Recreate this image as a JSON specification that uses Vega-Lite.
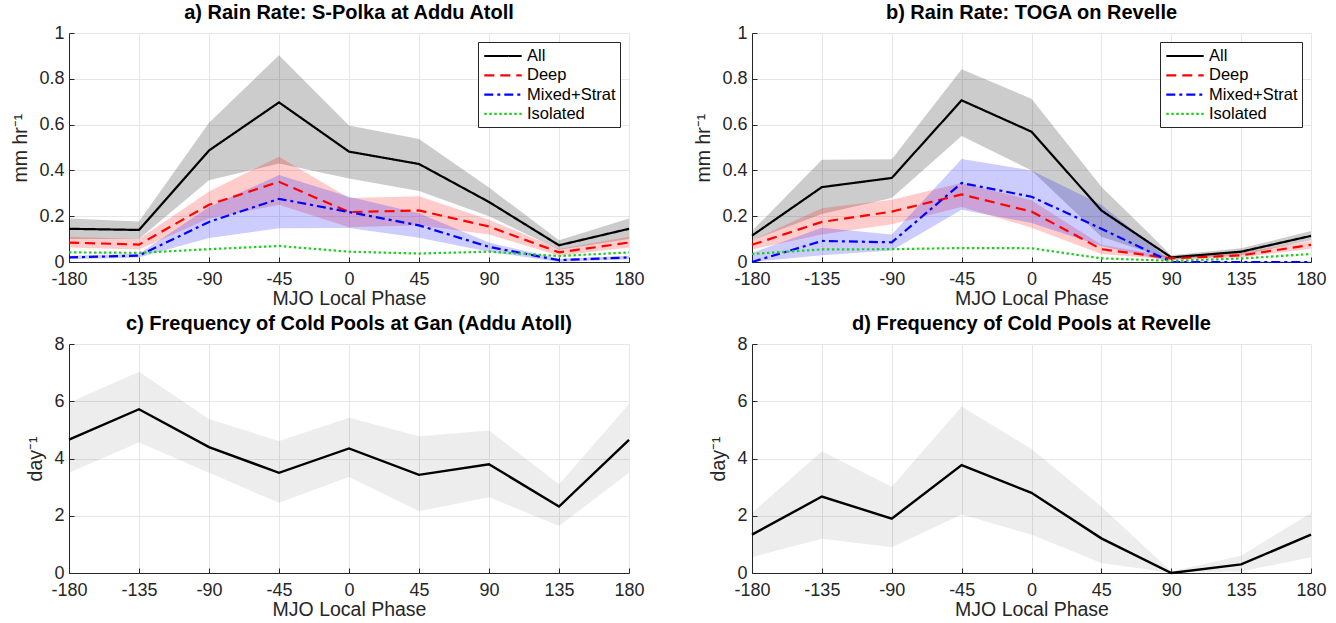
{
  "$schema": "https://vega.github.io/schema/vega-lite/v6.json",
  "padding": {"left": 10, "top": 3, "right": 10, "bottom": 4},
  "background": "white",
  "config": {
    "font": "Liberation Sans",
    "view": {"stroke": null},
    "axis": {
      "labelFont": "Liberation Sans",
      "titleFont": "Liberation Sans",
      "labelFontSize": 18,
      "titleFontSize": 19.5,
      "titleFontWeight": "normal",
      "labelColor": "#262626",
      "titleColor": "#262626",
      "domainColor": "#262626",
      "tickColor": "#262626",
      "gridColor": "#e6e6e6",
      "grid": true,
      "tickSize": -5,
      "labelFlush": false,
      "labelOverlap": false
    },
    "axisX": {"labelPadding": 13, "titlePadding": 1},
    "axisY": {"labelPadding": 10, "titlePadding": 8},
    "title": {"font": "Liberation Sans", "fontSize": 20, "fontWeight": "bold", "color": "#000000", "offset": 1, "anchor": "middle", "frame": "group"},
    "legend": {
      "orient": "top-right",
      "offset": 9,
      "padding": 4,
      "strokeColor": "#262626",
      "fillColor": "#ffffff",
      "symbolType": "M-2.2,0H2.2",
      "symbolSize": 289,
      "symbolStrokeWidth": 2.2,
      "symbolOffset": 11,
      "rowPadding": 0.3,
      "labelFont": "Liberation Sans",
      "labelFontSize": 16.5,
      "labelColor": "#000000",
      "labelOffset": 14
    }
  },
  "datasets": {
    "rain": [
      {"p": "a", "s": "All", "x": -180, "y": 0.145, "lo": 0.100, "hi": 0.190},
      {"p": "a", "s": "All", "x": -135, "y": 0.140, "lo": 0.100, "hi": 0.177},
      {"p": "a", "s": "All", "x": -90, "y": 0.487, "lo": 0.357, "hi": 0.608},
      {"p": "a", "s": "All", "x": -45, "y": 0.697, "lo": 0.430, "hi": 0.903},
      {"p": "a", "s": "All", "x": 0, "y": 0.482, "lo": 0.365, "hi": 0.596},
      {"p": "a", "s": "All", "x": 45, "y": 0.428, "lo": 0.310, "hi": 0.537},
      {"p": "a", "s": "All", "x": 90, "y": 0.262, "lo": 0.200, "hi": 0.325},
      {"p": "a", "s": "All", "x": 135, "y": 0.073, "lo": 0.053, "hi": 0.095},
      {"p": "a", "s": "All", "x": 180, "y": 0.145, "lo": 0.100, "hi": 0.190},
      {"p": "a", "s": "Deep", "x": -180, "y": 0.085, "lo": 0.063, "hi": 0.110},
      {"p": "a", "s": "Deep", "x": -135, "y": 0.076, "lo": 0.055, "hi": 0.100},
      {"p": "a", "s": "Deep", "x": -90, "y": 0.250, "lo": 0.190, "hi": 0.308},
      {"p": "a", "s": "Deep", "x": -45, "y": 0.350, "lo": 0.250, "hi": 0.460},
      {"p": "a", "s": "Deep", "x": 0, "y": 0.218, "lo": 0.152, "hi": 0.280},
      {"p": "a", "s": "Deep", "x": 45, "y": 0.225, "lo": 0.160, "hi": 0.287},
      {"p": "a", "s": "Deep", "x": 90, "y": 0.155, "lo": 0.120, "hi": 0.185},
      {"p": "a", "s": "Deep", "x": 135, "y": 0.042, "lo": 0.027, "hi": 0.057},
      {"p": "a", "s": "Deep", "x": 180, "y": 0.085, "lo": 0.063, "hi": 0.110},
      {"p": "a", "s": "Mixed+Strat", "x": -180, "y": 0.020, "lo": 0.012, "hi": 0.027},
      {"p": "a", "s": "Mixed+Strat", "x": -135, "y": 0.028, "lo": 0.020, "hi": 0.036},
      {"p": "a", "s": "Mixed+Strat", "x": -90, "y": 0.175, "lo": 0.105, "hi": 0.240},
      {"p": "a", "s": "Mixed+Strat", "x": -45, "y": 0.276, "lo": 0.147, "hi": 0.380},
      {"p": "a", "s": "Mixed+Strat", "x": 0, "y": 0.218, "lo": 0.148, "hi": 0.285},
      {"p": "a", "s": "Mixed+Strat", "x": 45, "y": 0.160, "lo": 0.106, "hi": 0.213},
      {"p": "a", "s": "Mixed+Strat", "x": 90, "y": 0.066, "lo": 0.045, "hi": 0.085},
      {"p": "a", "s": "Mixed+Strat", "x": 135, "y": 0.008, "lo": 0.000, "hi": 0.014},
      {"p": "a", "s": "Mixed+Strat", "x": 180, "y": 0.020, "lo": 0.012, "hi": 0.027},
      {"p": "a", "s": "Isolated", "x": -180, "y": 0.042},
      {"p": "a", "s": "Isolated", "x": -135, "y": 0.040},
      {"p": "a", "s": "Isolated", "x": -90, "y": 0.056},
      {"p": "a", "s": "Isolated", "x": -45, "y": 0.070},
      {"p": "a", "s": "Isolated", "x": 0, "y": 0.045},
      {"p": "a", "s": "Isolated", "x": 45, "y": 0.037},
      {"p": "a", "s": "Isolated", "x": 90, "y": 0.045},
      {"p": "a", "s": "Isolated", "x": 135, "y": 0.026},
      {"p": "a", "s": "Isolated", "x": 180, "y": 0.042},
      {"p": "b", "s": "All", "x": -180, "y": 0.115, "lo": 0.095, "hi": 0.135},
      {"p": "b", "s": "All", "x": -135, "y": 0.327, "lo": 0.210, "hi": 0.446},
      {"p": "b", "s": "All", "x": -90, "y": 0.367, "lo": 0.280, "hi": 0.449},
      {"p": "b", "s": "All", "x": -45, "y": 0.706, "lo": 0.550, "hi": 0.842},
      {"p": "b", "s": "All", "x": 0, "y": 0.569, "lo": 0.400, "hi": 0.713},
      {"p": "b", "s": "All", "x": 45, "y": 0.225, "lo": 0.110, "hi": 0.329},
      {"p": "b", "s": "All", "x": 90, "y": 0.020, "lo": 0.010, "hi": 0.030},
      {"p": "b", "s": "All", "x": 135, "y": 0.045, "lo": 0.030, "hi": 0.060},
      {"p": "b", "s": "All", "x": 180, "y": 0.114, "lo": 0.095, "hi": 0.135},
      {"p": "b", "s": "Deep", "x": -180, "y": 0.075, "lo": 0.055, "hi": 0.095},
      {"p": "b", "s": "Deep", "x": -135, "y": 0.175, "lo": 0.120, "hi": 0.235},
      {"p": "b", "s": "Deep", "x": -90, "y": 0.220, "lo": 0.165, "hi": 0.272},
      {"p": "b", "s": "Deep", "x": -45, "y": 0.295, "lo": 0.240, "hi": 0.345},
      {"p": "b", "s": "Deep", "x": 0, "y": 0.220, "lo": 0.150, "hi": 0.270},
      {"p": "b", "s": "Deep", "x": 45, "y": 0.056, "lo": 0.035, "hi": 0.075},
      {"p": "b", "s": "Deep", "x": 90, "y": 0.016, "lo": 0.010, "hi": 0.022},
      {"p": "b", "s": "Deep", "x": 135, "y": 0.029, "lo": 0.020, "hi": 0.040},
      {"p": "b", "s": "Deep", "x": 180, "y": 0.075, "lo": 0.058, "hi": 0.092},
      {"p": "b", "s": "Mixed+Strat", "x": -180, "y": 0.000, "lo": 0.000, "hi": 0.040},
      {"p": "b", "s": "Mixed+Strat", "x": -135, "y": 0.092, "lo": 0.030, "hi": 0.150},
      {"p": "b", "s": "Mixed+Strat", "x": -90, "y": 0.086, "lo": 0.050, "hi": 0.120},
      {"p": "b", "s": "Mixed+Strat", "x": -45, "y": 0.345, "lo": 0.228, "hi": 0.450},
      {"p": "b", "s": "Mixed+Strat", "x": 0, "y": 0.285, "lo": 0.170, "hi": 0.400},
      {"p": "b", "s": "Mixed+Strat", "x": 45, "y": 0.145, "lo": 0.070, "hi": 0.250},
      {"p": "b", "s": "Mixed+Strat", "x": 90, "y": 0.000, "lo": 0.000, "hi": 0.003},
      {"p": "b", "s": "Mixed+Strat", "x": 135, "y": 0.000, "lo": 0.000, "hi": 0.003},
      {"p": "b", "s": "Mixed+Strat", "x": 180, "y": 0.000, "lo": 0.000, "hi": 0.003},
      {"p": "b", "s": "Isolated", "x": -180, "y": 0.035},
      {"p": "b", "s": "Isolated", "x": -135, "y": 0.055},
      {"p": "b", "s": "Isolated", "x": -90, "y": 0.056},
      {"p": "b", "s": "Isolated", "x": -45, "y": 0.061},
      {"p": "b", "s": "Isolated", "x": 0, "y": 0.060},
      {"p": "b", "s": "Isolated", "x": 45, "y": 0.016},
      {"p": "b", "s": "Isolated", "x": 90, "y": 0.005},
      {"p": "b", "s": "Isolated", "x": 135, "y": 0.015},
      {"p": "b", "s": "Isolated", "x": 180, "y": 0.035}
    ],
    "pools": [
      {"p": "c", "x": -180, "y": 4.66, "lo": 3.50, "hi": 5.95},
      {"p": "c", "x": -135, "y": 5.72, "lo": 4.56, "hi": 7.03},
      {"p": "c", "x": -90, "y": 4.40, "lo": 3.50, "hi": 5.38},
      {"p": "c", "x": -45, "y": 3.50, "lo": 2.45, "hi": 4.61},
      {"p": "c", "x": 0, "y": 4.35, "lo": 3.35, "hi": 5.42},
      {"p": "c", "x": 45, "y": 3.43, "lo": 2.16, "hi": 4.78},
      {"p": "c", "x": 90, "y": 3.80, "lo": 2.65, "hi": 4.98},
      {"p": "c", "x": 135, "y": 2.32, "lo": 1.64, "hi": 3.10},
      {"p": "c", "x": 180, "y": 4.65, "lo": 3.50, "hi": 5.90},
      {"p": "d", "x": -180, "y": 1.34, "lo": 0.55, "hi": 2.10},
      {"p": "d", "x": -135, "y": 2.67, "lo": 1.20, "hi": 4.25},
      {"p": "d", "x": -90, "y": 1.90, "lo": 0.90, "hi": 3.01},
      {"p": "d", "x": -45, "y": 3.77, "lo": 2.04, "hi": 5.82},
      {"p": "d", "x": 0, "y": 2.80, "lo": 1.34, "hi": 4.33},
      {"p": "d", "x": 45, "y": 1.21, "lo": 0.35, "hi": 2.32},
      {"p": "d", "x": 90, "y": 0.00, "lo": 0.00, "hi": 0.05},
      {"p": "d", "x": 135, "y": 0.30, "lo": 0.05, "hi": 0.60},
      {"p": "d", "x": 180, "y": 1.34, "lo": 0.55, "hi": 2.10}
    ]
  },
  "columns": 2,
  "spacing": {"row": 82, "column": 123},
  "bounds": "flush",
  "resolve": {
    "scale": {"color": "independent", "strokeDash": "independent", "fill": "independent", "y": "independent", "x": "independent"},
    "legend": {"color": "independent", "strokeDash": "independent"}
  },
  "concat": [
    {
      "title": "a) Rain Rate: S-Polka at Addu Atoll",
      "width": 560, "height": 229,
      "data": {"name": "rain"},
      "transform": [{"filter": "datum.p == 'a'"}],
      "layer": [
        {
          "transform": [{"filter": "datum.s != 'Isolated'"}],
          "mark": {"type": "area", "fillOpacity": 0.2},
          "encoding": {
            "x": {"field": "x", "type": "quantitative", "scale": {"domain": [-180, 180], "nice": false}, "axis": {"values": [-180, -135, -90, -45, 0, 45, 90, 135, 180], "labelExpr": "replace(datum.label, '−', '-')", "title": "MJO Local Phase"}},
            "y": {"field": "lo", "type": "quantitative", "scale": {"domain": [0, 1], "nice": false}, "axis": {"values": [0, 0.2, 0.4, 0.6, 0.8, 1], "format": "~g", "title": "mm hr⁻¹"}},
            "y2": {"field": "hi"},
            "fill": {"field": "s", "type": "nominal", "scale": {"domain": ["All", "Deep", "Mixed+Strat"], "range": ["#000000", "#ff0000", "#0000ff"]}, "legend": null}
          }
        },
        {
          "mark": {"type": "line", "strokeWidth": 2.2},
          "encoding": {
            "x": {"field": "x", "type": "quantitative", "scale": {"domain": [-180, 180], "nice": false}, "axis": {"values": [-180, -135, -90, -45, 0, 45, 90, 135, 180], "labelExpr": "replace(datum.label, '−', '-')", "title": "MJO Local Phase"}},
            "y": {"field": "y", "type": "quantitative", "scale": {"domain": [0, 1], "nice": false}, "axis": {"values": [0, 0.2, 0.4, 0.6, 0.8, 1], "format": "~g", "title": "mm hr⁻¹"}},
            "color": {"field": "s", "type": "nominal", "sort": ["All", "Deep", "Mixed+Strat", "Isolated"], "scale": {"domain": ["All", "Deep", "Mixed+Strat", "Isolated"], "range": ["#000000", "#ff0000", "#0000ff", "#22cc22"]}, "legend": {"title": null}},
            "strokeDash": {"field": "s", "type": "nominal", "sort": ["All", "Deep", "Mixed+Strat", "Isolated"], "scale": {"domain": ["All", "Deep", "Mixed+Strat", "Isolated"], "range": [[1, 0], [10, 6], [9, 4, 3, 4], [2.5, 2.5]]}, "legend": {"title": null}}
          }
        }
      ]
    },
    {
      "title": "b) Rain Rate: TOGA on Revelle",
      "width": 559, "height": 229,
      "data": {"name": "rain"},
      "transform": [{"filter": "datum.p == 'b'"}],
      "layer": [
        {
          "transform": [{"filter": "datum.s != 'Isolated'"}],
          "mark": {"type": "area", "fillOpacity": 0.2},
          "encoding": {
            "x": {"field": "x", "type": "quantitative", "scale": {"domain": [-180, 180], "nice": false}, "axis": {"values": [-180, -135, -90, -45, 0, 45, 90, 135, 180], "labelExpr": "replace(datum.label, '−', '-')", "title": "MJO Local Phase"}},
            "y": {"field": "lo", "type": "quantitative", "scale": {"domain": [0, 1], "nice": false}, "axis": {"values": [0, 0.2, 0.4, 0.6, 0.8, 1], "format": "~g", "title": "mm hr⁻¹"}},
            "y2": {"field": "hi"},
            "fill": {"field": "s", "type": "nominal", "scale": {"domain": ["All", "Deep", "Mixed+Strat"], "range": ["#000000", "#ff0000", "#0000ff"]}, "legend": null}
          }
        },
        {
          "mark": {"type": "line", "strokeWidth": 2.2},
          "encoding": {
            "x": {"field": "x", "type": "quantitative", "scale": {"domain": [-180, 180], "nice": false}, "axis": {"values": [-180, -135, -90, -45, 0, 45, 90, 135, 180], "labelExpr": "replace(datum.label, '−', '-')", "title": "MJO Local Phase"}},
            "y": {"field": "y", "type": "quantitative", "scale": {"domain": [0, 1], "nice": false}, "axis": {"values": [0, 0.2, 0.4, 0.6, 0.8, 1], "format": "~g", "title": "mm hr⁻¹"}},
            "color": {"field": "s", "type": "nominal", "sort": ["All", "Deep", "Mixed+Strat", "Isolated"], "scale": {"domain": ["All", "Deep", "Mixed+Strat", "Isolated"], "range": ["#000000", "#ff0000", "#0000ff", "#22cc22"]}, "legend": {"title": null}},
            "strokeDash": {"field": "s", "type": "nominal", "sort": ["All", "Deep", "Mixed+Strat", "Isolated"], "scale": {"domain": ["All", "Deep", "Mixed+Strat", "Isolated"], "range": [[1, 0], [10, 6], [9, 4, 3, 4], [2.5, 2.5]]}, "legend": {"title": null}}
          }
        }
      ]
    },
    {
      "title": "c) Frequency of Cold Pools at Gan (Addu Atoll)",
      "width": 560, "height": 229,
      "data": {"name": "pools"},
      "transform": [{"filter": "datum.p == 'c'"}],
      "encoding": {
        "x": {"field": "x", "type": "quantitative", "scale": {"domain": [-180, 180], "nice": false}, "axis": {"values": [-180, -135, -90, -45, 0, 45, 90, 135, 180], "labelExpr": "replace(datum.label, '−', '-')", "title": "MJO Local Phase"}}
      },
      "layer": [
        {
          "mark": {"type": "area", "color": "#000000", "fillOpacity": 0.07},
          "encoding": {
            "y": {"field": "lo", "type": "quantitative", "scale": {"domain": [0, 8], "nice": false}, "axis": {"values": [0, 2, 4, 6, 8], "title": "day⁻¹"}},
            "y2": {"field": "hi"}
          }
        },
        {
          "mark": {"type": "line", "color": "#000000", "strokeWidth": 2.4},
          "encoding": {
            "y": {"field": "y", "type": "quantitative", "scale": {"domain": [0, 8], "nice": false}, "axis": {"values": [0, 2, 4, 6, 8], "title": "day⁻¹"}}
          }
        }
      ]
    },
    {
      "title": "d) Frequency of Cold Pools at Revelle",
      "width": 559, "height": 229,
      "data": {"name": "pools"},
      "transform": [{"filter": "datum.p == 'd'"}],
      "encoding": {
        "x": {"field": "x", "type": "quantitative", "scale": {"domain": [-180, 180], "nice": false}, "axis": {"values": [-180, -135, -90, -45, 0, 45, 90, 135, 180], "labelExpr": "replace(datum.label, '−', '-')", "title": "MJO Local Phase"}}
      },
      "layer": [
        {
          "mark": {"type": "area", "color": "#000000", "fillOpacity": 0.07},
          "encoding": {
            "y": {"field": "lo", "type": "quantitative", "scale": {"domain": [0, 8], "nice": false}, "axis": {"values": [0, 2, 4, 6, 8], "title": "day⁻¹"}},
            "y2": {"field": "hi"}
          }
        },
        {
          "mark": {"type": "line", "color": "#000000", "strokeWidth": 2.4},
          "encoding": {
            "y": {"field": "y", "type": "quantitative", "scale": {"domain": [0, 8], "nice": false}, "axis": {"values": [0, 2, 4, 6, 8], "title": "day⁻¹"}}
          }
        }
      ]
    }
  ]
}
